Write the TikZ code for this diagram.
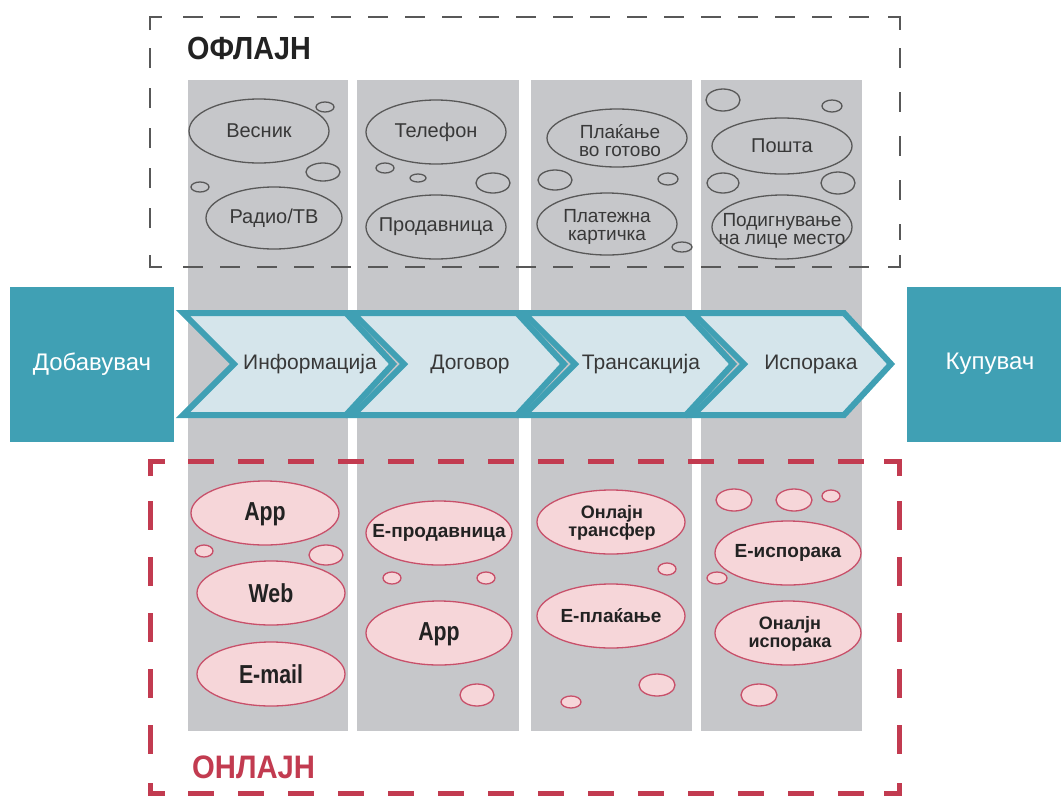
\documentclass[tikz,border=0pt]{standalone}
\usepackage{fontspec}
\setmainfont{Liberation Sans}
\newfontfamily\condfont{Liberation Sans}[FakeStretch=0.82]
\newfontfamily\headfont{Liberation Sans}[FakeStretch=0.9]
\usetikzlibrary{shapes.geometric}
\definecolor{colbg}{HTML}{C6C7CA}
\definecolor{tealc}{HTML}{40A0B4}
\definecolor{chevfill}{HTML}{D5E5EB}
\definecolor{offline}{HTML}{585858}
\definecolor{redc}{HTML}{C23B50}
\definecolor{pinkfill}{HTML}{F6D6D9}
\definecolor{pinkline}{HTML}{C8506A}
\definecolor{txtc}{HTML}{383838}
\definecolor{darktxt}{HTML}{222222}
\tikzset{
  offell/.style={ellipse, draw=offline, line width=1.3pt, inner sep=0pt},
  onell/.style={ellipse, draw=pinkline, fill=pinkfill, line width=1.3pt, inner sep=0pt},
  offbub/.style={draw=offline, line width=1.3pt},
  onbub/.style={draw=pinkline, fill=pinkfill, line width=1.3pt},
  offtxt/.style={inner sep=0pt, text=txtc, align=center, font=\fontsize{20}{17.5}\selectfont},
  offtxtsm/.style={inner sep=0pt, text=txtc, align=center, font=\fontsize{19}{18}\selectfont},
  ontxt/.style={inner sep=0pt, text=darktxt, align=center, font=\fontsize{19}{18}\selectfont\bfseries},
  ontxtbig/.style={inner sep=0pt, text=darktxt, align=center, font=\fontsize{26}{26}\selectfont\condfont\bfseries},
  chevst/.style={draw=tealc, fill=chevfill, line width=6pt, line join=miter},
  chevtxt/.style={inner sep=0pt, text=txtc, font=\fontsize{21}{21}\selectfont},
  tealbox/.style={fill=tealc, inner sep=0pt},
  tealtxt/.style={inner sep=0pt, text=white, font=\fontsize{24}{24}\selectfont},
  offbox/.style={draw=offline, line width=1.5pt},
  onbox/.style={draw=redc, line width=5pt},
}
\newcommand\bubl[4]{\draw[#1] (#2) ellipse [x radius=#3pt, y radius=#4pt];}
\newcommand\chevr[5]{%
  \draw[chevst] (#2+1,313) -- (#3-1,313) -- (#3+46,364) -- (#3-1,415) -- (#2+1,415) -- (#2+52,364) -- cycle;
  \node[chevtxt] (#1) at (#4,364) {#5};}
\begin{document}
\begin{tikzpicture}[x=1pt,y=-1pt]
\useasboundingbox (0,0) rectangle (1061,796);
\fill[white] (0,0) rectangle (1061,796);
% columns
\foreach \a/\b in {188/348, 357/519, 531/692, 701/862}
  \fill[colbg] (\a,80) rectangle (\b,731);
% offline dashed box
\draw[offbox] (150,30) -- (150,17) -- (162,17);
\draw[offbox] (888,17) -- (900,17) -- (900,30);
\draw[offbox] (150,255) -- (150,267) -- (162,267);
\draw[offbox] (888,267) -- (900,267) -- (900,255);
\draw[offbox, dash pattern=on 20pt off 17pt] (183,17) -- (880,17);
\draw[offbox, dash pattern=on 20pt off 17pt] (183,267) -- (880,267);
\draw[offbox, dash pattern=on 20pt off 20pt] (150,48) -- (150,240);
\draw[offbox, dash pattern=on 20pt off 24pt] (900,48) -- (900,240);
\node[anchor=base west, inner sep=0pt, text=darktxt, font=\fontsize{32}{32}\selectfont\headfont\bfseries] (offtitle) at (187,59) {ОФЛАЈН};
% offline ellipses
\node[offell, minimum width=140pt, minimum height=64pt] (vesnik) at (259,131) {};
\node[offtxt] (vesnikT) at (vesnik) {Весник};
\node[offell, minimum width=136pt, minimum height=62pt] (radio) at (274,218) {};
\node[offtxt] (radioT) at (radio) {Радио/ТВ};
\node[offell, minimum width=140pt, minimum height=64pt] (telefon) at (436,132) {};
\node[offtxt] (telefonT) at (telefon) {Телефон};
\node[offell, minimum width=140pt, minimum height=64pt] (prod) at (436,227) {};
\node[offtxt] (prodT) at (prod) {Продавница};
\node[offell, minimum width=140pt, minimum height=58pt] (plak) at (617,138) {};
\node[offtxtsm] (plakT) at (620,141) {Плаќање\\во готово};
\node[offell, minimum width=140pt, minimum height=62pt] (plat) at (607,224) {};
\node[offtxtsm] (platT) at (607,227) {Платежна\\картичка};
\node[offell, minimum width=140pt, minimum height=56pt] (posta) at (782,146) {};
\node[offtxt] (postaT) at (posta) {Пошта};
\node[offell, minimum width=140pt, minimum height=64pt] (podig) at (782,227) {};
\node[offtxtsm] (podigT) at (782,231) {Подигнување\\на лице место};
% offline bubbles
\bubl{offbub}{325,107}{9}{5}
\bubl{offbub}{323,172}{17}{9}
\bubl{offbub}{200,187}{9}{5}
\bubl{offbub}{385,168}{9}{5}
\bubl{offbub}{418,178}{8}{4}
\bubl{offbub}{493,183}{17}{10}
\bubl{offbub}{555,180}{17}{10}
\bubl{offbub}{668,179}{10}{6}
\bubl{offbub}{682,247}{10}{5}
\bubl{offbub}{723,100}{17}{11}
\bubl{offbub}{832,106}{10}{6}
\bubl{offbub}{723,183}{16}{10}
\bubl{offbub}{838,183}{17}{11}
% teal boxes
\node[tealbox, minimum width=164pt, minimum height=155pt] (dob) at (92,364.5) {};
\node[tealtxt] (dobT) at (92,364) {Добавувач};
\fill[tealc] (907,287) rectangle (1061,442);
\coordinate (kup) at (990,364);
\node[tealtxt] (kupT) at (kup) {Купувач};
% chevrons
\chevr{ch1}{182}{347}{310}{Информација}
\chevr{ch2}{352}{518}{470}{Договор}
\chevr{ch3}{523}{687}{641}{Трансакција}
\chevr{ch4}{692}{845}{811}{Испорака}
% online dashed box
\draw[onbox] (150,476) -- (150,461) -- (165,461);
\draw[onbox] (884,461) -- (899,461) -- (899,476);
\draw[onbox] (150,783) -- (150,793) -- (165,793);
\draw[onbox] (884,793) -- (899,793) -- (899,783);
\draw[onbox, dash pattern=on 26pt off 24pt] (188,461) -- (870,461);
\draw[onbox, dash pattern=on 26pt off 24pt] (188,793) -- (870,793);
\draw[onbox, dash pattern=on 29pt off 27pt] (150,501) -- (150,756);
\draw[onbox, dash pattern=on 29pt off 27pt] (899,501) -- (899,756);
\node[anchor=base west, inner sep=0pt, text=redc, font=\fontsize{32.5}{32}\selectfont\headfont\bfseries] (ontitle) at (192,778) {ОНЛАЈН};
% online ellipses
\node[onell, minimum width=148pt, minimum height=64pt] (app1) at (265,513) {};
\node[ontxtbig] (app1T) at (265,514) {App};
\node[onell, minimum width=148pt, minimum height=64pt] (web) at (271,593) {};
\node[ontxtbig] (webT) at (web) {Web};
\node[onell, minimum width=148pt, minimum height=64pt] (email) at (271,674) {};
\node[ontxtbig] (emailT) at (email) {E-mail};
\node[onell, minimum width=146pt, minimum height=64pt] (eprod) at (439,533) {};
\node[ontxt] (eprodT) at (eprod) {Е-продавница};
\node[onell, minimum width=146pt, minimum height=64pt] (app2) at (439,633) {};
\node[ontxtbig] (app2T) at (439,634) {App};
\node[onell, minimum width=148pt, minimum height=64pt] (onltr) at (611,522) {};
\node[ontxt, font=\fontsize{18}{18}\selectfont\bfseries] (onltrT) at (612,523) {Онлајн\\трансфер};
\node[onell, minimum width=148pt, minimum height=64pt] (eplak) at (611,616) {};
\node[ontxt] (eplakT) at (eplak) {Е-плаќање};
\node[onell, minimum width=146pt, minimum height=64pt] (eisp) at (788,553) {};
\node[ontxt] (eispT) at (eisp) {Е-испорака};
\node[onell, minimum width=146pt, minimum height=64pt] (onisp) at (788,633) {};
\node[ontxt, font=\fontsize{18}{18}\selectfont\bfseries] (onispT) at (790,634) {Оналјн\\испорака};
% online bubbles
\bubl{onbub}{204,551}{9}{6}
\bubl{onbub}{326,555}{17}{10}
\bubl{onbub}{392,578}{9}{6}
\bubl{onbub}{486,578}{9}{6}
\bubl{onbub}{477,695}{17}{11}
\bubl{onbub}{667,569}{9}{6}
\bubl{onbub}{657,685}{18}{11}
\bubl{onbub}{571,702}{10}{6}
\bubl{onbub}{734,500}{18}{11}
\bubl{onbub}{794,500}{18}{11}
\bubl{onbub}{831,496}{9}{6}
\bubl{onbub}{717,578}{10}{6}
\bubl{onbub}{759,695}{18}{11}
\end{tikzpicture}
\end{document}
